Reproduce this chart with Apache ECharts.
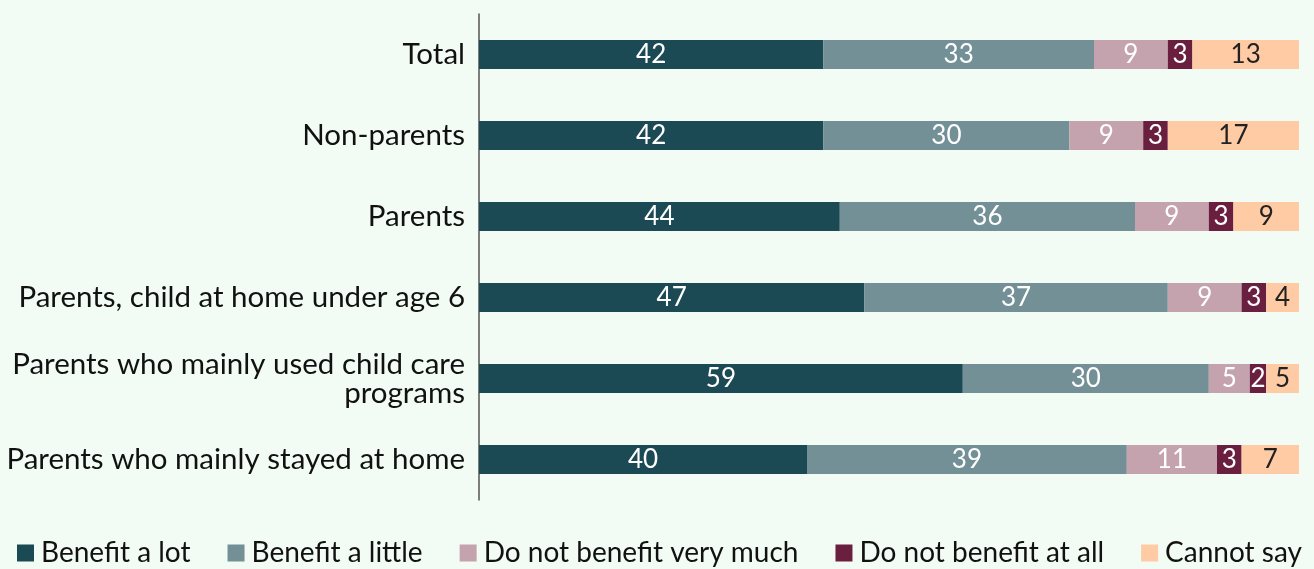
<!DOCTYPE html>
<html>
<head>
<meta charset="utf-8">
<script src="https://cdn.jsdelivr.net/npm/echarts@6/dist/echarts.min.js"></script>
<style>
  html, body { margin: 0; padding: 0; background: #F2FBF4; }
  #chart { width: 1314px; height: 569px; }
</style>
</head>
<body>
<div id="chart"></div>
<script>
const categories = [
  'Total',
  'Non-parents',
  'Parents',
  'Parents, child at home under age 6',
  'Parents who mainly used child care\nprograms',
  'Parents who mainly stayed at home'
];
const benefitLot = [42, 42, 44, 47, 59, 40];
const benefitLittle = [33, 30, 36, 37, 30, 39];
const notVeryMuch = [9, 9, 9, 9, 5, 11];
const notAtAll = [3, 3, 3, 3, 2, 3];
const cannotSay = [13, 17, 9, 4, 5, 7];

const seriesDefs = [
  { name: 'Benefit a lot', data: benefitLot, color: '#1B4A55', text: '#FFFFFF' },
  { name: 'Benefit a little', data: benefitLittle, color: '#739096', text: '#FFFFFF' },
  { name: 'Do not benefit very much', data: notVeryMuch, color: '#C4A3AE', text: '#FFFFFF' },
  { name: 'Do not benefit at all', data: notAtAll, color: '#6A1F3E', text: '#FFFFFF' },
  { name: 'Cannot say', data: cannotSay, color: '#FECBA5', text: '#222222' }
];

const FONT = 'Lato';
const chart = echarts.init(document.getElementById('chart'));
chart.setOption({
  backgroundColor: '#F2FBF4',
  animation: false,
  textStyle: { fontFamily: FONT },
  grid: { left: 479, right: 15, top: 14, bottom: 69 },
  legend: {
    left: 12,
    bottom: -3,
    itemWidth: 17,
    itemHeight: 17,
    itemGap: 37,
    icon: 'rect',
    textStyle: { fontSize: 28, color: '#111', fontFamily: FONT, padding: [0, 0, 0, 2] }
  },
  xAxis: {
    type: 'value', min: 0, max: 100, show: false
  },
  yAxis: {
    type: 'category',
    inverse: true,
    data: categories,
    axisLine: { show: true, lineStyle: { color: '#555', width: 1.5 } },
    axisTick: { show: false },
    axisLabel: {
      fontSize: 29.5, color: '#111', margin: 14, align: 'right', lineHeight: 29, fontFamily: FONT
    }
  },
  series: seriesDefs.map(s => ({
    name: s.name,
    type: 'bar',
    stack: 'all',
    barWidth: 29,
    data: s.data,
    itemStyle: { color: s.color },
    label: {
      show: true,
      position: 'inside',
      color: s.text,
      fontSize: 26,
      fontFamily: FONT
    }
  }))
});
</script>
</body>
</html>
